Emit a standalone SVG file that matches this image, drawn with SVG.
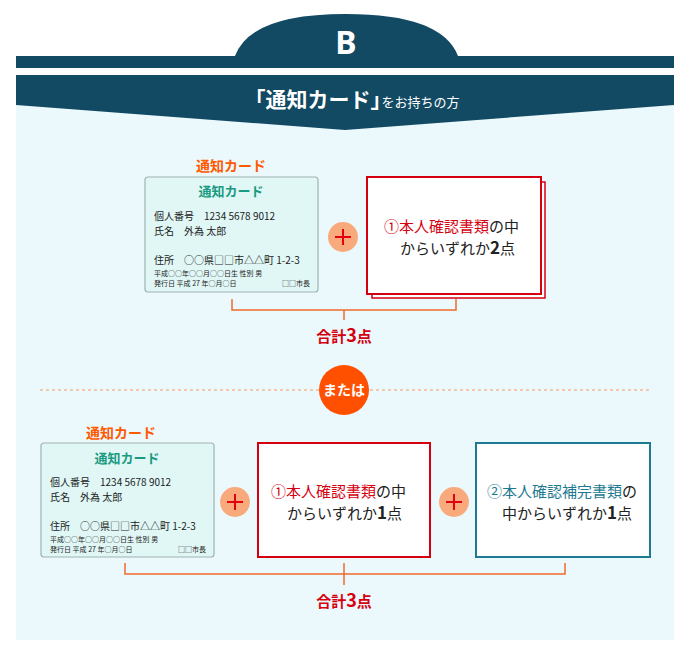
<svg xmlns="http://www.w3.org/2000/svg" width="690" height="654" viewBox="0 0 690 654">
<style>
text{font-family:"Noto Sans CJK JP","Noto Sans",sans-serif}
.card{fill:#e0f7f5;stroke:#9fb3b3;stroke-width:1.2}
.ct{fill:#1a9a82;font-size:13px;font-weight:bold}
.cm{fill:#222;font-size:10px}
.cs{fill:#222;font-size:7px}
.lbl{fill:#ff5a00;font-size:14px;font-weight:bold}
.tot{fill:#d5000f;font-size:15px;font-weight:bold}
.br{fill:none;stroke:#f26a2c;stroke-width:1.5}
.plus{fill:#f9aa7c}
.pl{stroke:#e3000f;stroke-width:2}
.bt{font-size:15px;fill:#222}
</style>
<rect x="0" y="0" width="690" height="654" fill="#fff"/>
<rect x="16" y="75" width="658" height="565" fill="#ebf8fc"/>
<path d="M235 56 Q250 14 346 14 Q442 14 458 56 Z" fill="#114a62"/>
<rect x="16" y="56" width="658" height="12" fill="#114a62"/>
<path d="M16 75 H674 V105 L345 130 L16 105 Z" fill="#114a62"/>
<text x="346" y="54" font-size="32" font-weight="bold" fill="#fff" text-anchor="middle" style="font-family:'Noto Sans',sans-serif">B</text>
<text x="352" y="107" fill="#fff" text-anchor="middle"><tspan font-size="21" font-weight="bold">「通知カード」</tspan><tspan font-size="13" dx="-10">をお持ちの方</tspan></text>
<g id="card1">
<text x="231" y="171" class="lbl" text-anchor="middle">通知カード</text>
<rect x="145" y="177" width="173" height="115" rx="3" class="card"/>
<text x="231" y="196" class="ct" text-anchor="middle">通知カード</text>
<text x="154" y="220" class="cm">個人番号　1234 5678 9012</text>
<text x="154" y="235" class="cm">氏名　外為 太郎</text>
<text x="154" y="264" class="cm">住所　○○県□□市△△町 1-2-3</text>
<text x="154" y="276" class="cs">平成○○年○○月○○日生  性別 男</text>
<text x="154" y="286" class="cs">発行日 平成 27 年○月○日</text>
<text x="310" y="286" class="cs" text-anchor="end" font-size="9">□□市長</text>
</g>
<g id="plus1"><circle cx="343" cy="237" r="15" class="plus"/><path d="M335 237H351M343 229V245" class="pl"/></g>
<g id="box1">
<rect x="372" y="182" width="173" height="116" fill="#fff" stroke="#d5000f" stroke-width="1.5"/>
<rect x="367" y="177" width="174" height="117" fill="#fff" stroke="#d5000f" stroke-width="2"/>
<text x="384" y="232" class="bt"><tspan fill="#d5000f">①本人確認書類</tspan>の中</text>
<text x="400" y="254" class="bt">からいずれか<tspan font-weight="bold" font-size="17">2</tspan>点</text>
</g>
<g id="connectors">
<path d="M232 299V310H456V299M344 310V320" class="br"/>
<path d="M125 563V574H565V563M344 563V585" class="br"/>
<line x1="40" y1="390" x2="650" y2="390" stroke="#f79a62" stroke-width="1" stroke-dasharray="3,3"/>
</g>
<text x="344" y="342" class="tot" text-anchor="middle">合計<tspan font-size="18">3</tspan>点</text>
<g id="or"><circle cx="344" cy="390" r="25" fill="#ff5000"/><text x="344" y="395" fill="#fff" font-size="14" font-weight="bold" text-anchor="middle">または</text></g>
<g id="card2">
<text x="121" y="438" class="lbl" text-anchor="middle">通知カード</text>
<rect x="41" y="443" width="173" height="114" rx="3" class="card"/>
<text x="127" y="463" class="ct" text-anchor="middle">通知カード</text>
<text x="50" y="486" class="cm">個人番号　1234 5678 9012</text>
<text x="50" y="501" class="cm">氏名　外為 太郎</text>
<text x="50" y="530" class="cm">住所　○○県□□市△△町 1-2-3</text>
<text x="50" y="542" class="cs">平成○○年○○月○○日生  性別 男</text>
<text x="50" y="552" class="cs">発行日 平成 27 年○月○日</text>
<text x="206" y="552" class="cs" text-anchor="end" font-size="9">□□市長</text>
</g>
<g id="plus2"><circle cx="235" cy="502" r="15" class="plus"/><path d="M227 502H243M235 494V510" class="pl"/></g>
<g id="box2">
<rect x="258" y="443" width="172" height="114" fill="#fff" stroke="#d5000f" stroke-width="2"/>
<text x="271" y="497" class="bt"><tspan fill="#d5000f">①本人確認書類</tspan>の中</text>
<text x="287" y="519" class="bt">からいずれか<tspan font-weight="bold" font-size="17">1</tspan>点</text>
</g>
<g id="plus3"><circle cx="454" cy="502" r="15" class="plus"/><path d="M446 502H462M454 494V510" class="pl"/></g>
<g id="box3">
<rect x="476" y="443" width="174" height="114" fill="#fff" stroke="#1e7a90" stroke-width="2"/>
<text x="487" y="497" class="bt"><tspan fill="#1e7a90">②本人確認補完書類</tspan>の</text>
<text x="502" y="519" class="bt">中からいずれか<tspan font-weight="bold" font-size="17">1</tspan>点</text>
</g>
<text x="344" y="607" class="tot" text-anchor="middle">合計<tspan font-size="18">3</tspan>点</text>
</svg>
